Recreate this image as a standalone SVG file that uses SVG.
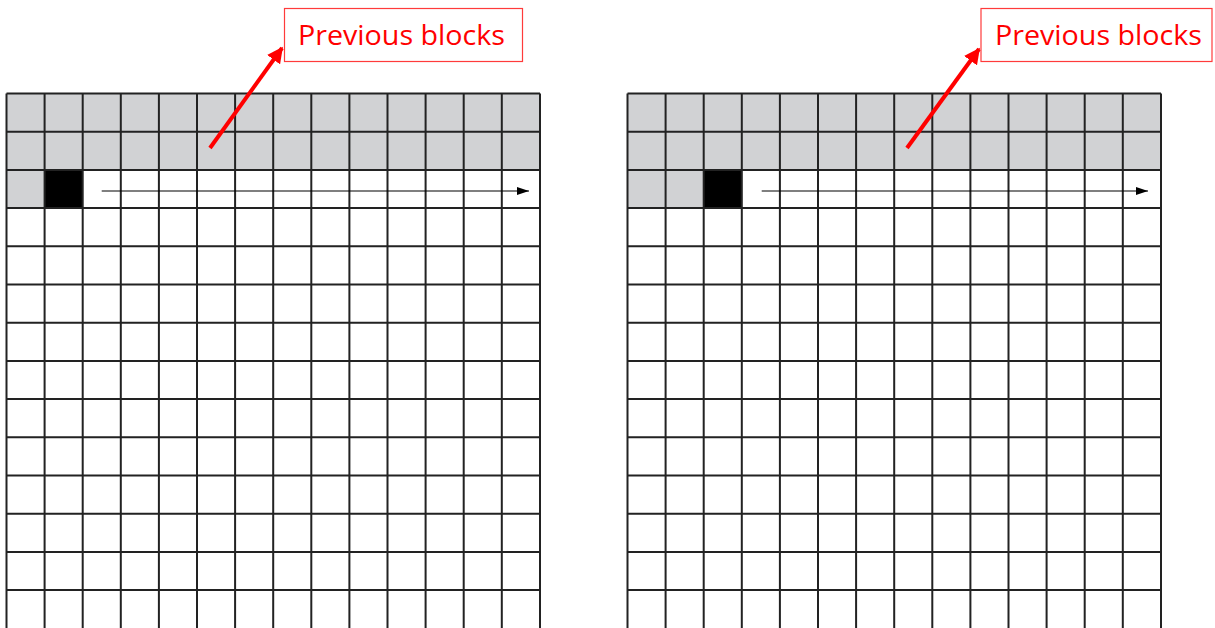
<svg xmlns="http://www.w3.org/2000/svg" width="1215" height="628" viewBox="0 0 1215 628">
<defs>
<style>
.gray{fill:#d1d2d4}
.blk{fill:#000}
.grid{stroke:#222;stroke-width:2;fill:none}
.flow{stroke:#000;stroke-width:1.2;fill:none}
.red{stroke:#ff0000;stroke-width:4;fill:none}
.box{fill:#fff;stroke:#ff3b3b;stroke-width:1.2}
.lbl{font-family:"Open Sans","Liberation Sans",sans-serif;font-size:27px;fill:#ff0000}
</style>
<marker id="ah" viewBox="0 0 12 8" refX="12" refY="4" markerWidth="12" markerHeight="8" markerUnits="userSpaceOnUse" orient="auto"><path d="M0,0 L12,4 L0,8 Z" fill="#000"/></marker>
<marker id="rh" viewBox="0 0 10 10" refX="9" refY="5" markerWidth="4" markerHeight="4" orient="auto"><path d="M0,0 L10,5 L0,10 Z" fill="#ff0000"/></marker>
<pattern id="cells" x="0" y="0" width="38.1" height="38.2" patternUnits="userSpaceOnUse"><path d="M0,0 H38.1 M0,0 V38.2" stroke="#222" stroke-width="2" fill="none"/></pattern>
</defs>

<g id="grid-left">
<rect class="gray" x="6.5" y="93.5" width="533.5" height="76.4"/>
<rect class="gray" x="6.5" y="169.9" width="38.1" height="38.2"/>
<rect class="blk" x="44.6" y="169.9" width="38.1" height="38.2"/>
<g class="grid">
<path d="M6.5,93.5 V628 M44.6,93.5 V628 M82.7,93.5 V628 M120.8,93.5 V628 M158.9,93.5 V628 M197,93.5 V628 M235.1,93.5 V628 M273.2,93.5 V628 M311.3,93.5 V628 M349.4,93.5 V628 M387.5,93.5 V628 M425.6,93.5 V628 M463.7,93.5 V628 M501.8,93.5 V628 M540,93.5 V628"/>
<path d="M6.5,93.5 H540 M6.5,131.7 H540 M6.5,169.9 H540 M6.5,208.1 H540 M6.5,246.3 H540 M6.5,284.5 H540 M6.5,322.7 H540 M6.5,360.9 H540 M6.5,399.1 H540 M6.5,437.3 H540 M6.5,475.5 H540 M6.5,513.7 H540 M6.5,551.9 H540 M6.5,590.1 H540"/>
</g>
</g>

<g id="grid-right">
<rect class="gray" x="627.5" y="93.5" width="533.5" height="76.4"/>
<rect class="gray" x="627.5" y="169.9" width="76.2" height="38.2"/>
<rect class="blk" x="703.7" y="169.9" width="38.1" height="38.2"/>
<g class="grid">
<path d="M627.5,93.5 V628 M665.6,93.5 V628 M703.7,93.5 V628 M741.8,93.5 V628 M779.9,93.5 V628 M818,93.5 V628 M856.1,93.5 V628 M894.2,93.5 V628 M932.3,93.5 V628 M970.4,93.5 V628 M1008.5,93.5 V628 M1046.6,93.5 V628 M1084.7,93.5 V628 M1122.8,93.5 V628 M1161,93.5 V628"/>
<path d="M627.5,93.5 H1161 M627.5,131.7 H1161 M627.5,169.9 H1161 M627.5,208.1 H1161 M627.5,246.3 H1161 M627.5,284.5 H1161 M627.5,322.7 H1161 M627.5,360.9 H1161 M627.5,399.1 H1161 M627.5,437.3 H1161 M627.5,475.5 H1161 M627.5,513.7 H1161 M627.5,551.9 H1161 M627.5,590.1 H1161"/>
</g>
</g>

<g id="label-left">
<rect class="box" x="284.5" y="8.5" width="238" height="53"/>
<text class="lbl" x="298" y="45" textLength="207" lengthAdjust="spacingAndGlyphs">Previous blocks</text>
</g>
<g id="label-right">
<rect class="box" x="981" y="8.5" width="231" height="53"/>
<text class="lbl" x="995" y="45" textLength="207" lengthAdjust="spacingAndGlyphs">Previous blocks</text>
</g>

<g id="connectors">
<path class="flow" d="M101.7,191 H529" marker-end="url(#ah)"/>
<path class="flow" d="M761.7,191 H1148" marker-end="url(#ah)"/>
<path class="red" d="M210,148 L282,48" marker-end="url(#rh)"/>
<path class="red" d="M907,148 L979,49" marker-end="url(#rh)"/>
</g>
</svg>
